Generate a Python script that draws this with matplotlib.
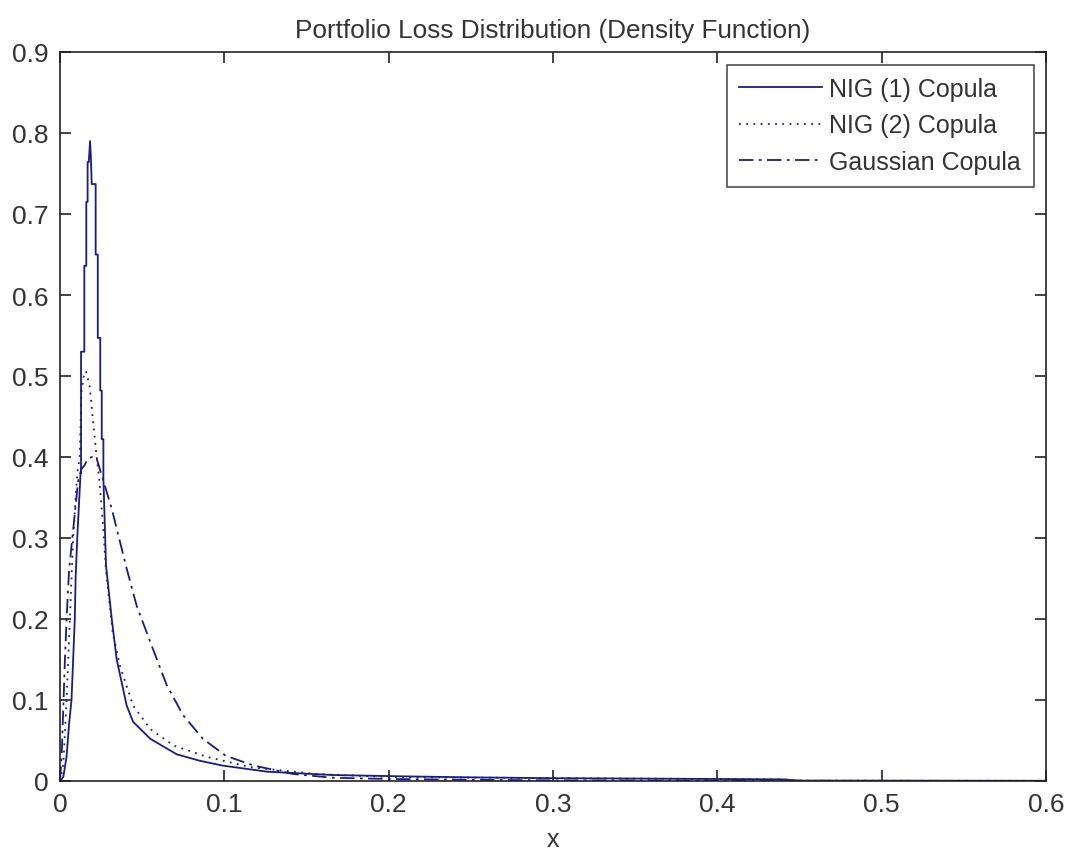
import matplotlib
matplotlib.use("Agg")
import matplotlib.pyplot as plt

plt.rcParams['font.family'] = ['Liberation Sans', 'DejaVu Sans']

# ---- data ----
nig1_x = [0, 0.002, 0.004, 0.0055, 0.007, 0.008, 0.009, 0.0095, 0.0105, 0.0115, 0.0125,
          0.0128, 0.0128, 0.0148, 0.0148, 0.016, 0.016, 0.0168, 0.0168, 0.0175, 0.0183,
          0.0188, 0.0193, 0.0217, 0.0217, 0.023, 0.023, 0.0245, 0.0245, 0.0254, 0.0254,
          0.0264, 0.0264, 0.028, 0.0315, 0.0345, 0.0406, 0.0445, 0.055, 0.071, 0.085,
          0.099, 0.126, 0.166, 0.207, 0.25, 0.3, 0.35, 0.4, 0.44, 0.45, 0.6]
nig1_y = [0, 0.005, 0.03, 0.07, 0.1, 0.15, 0.2, 0.25, 0.3, 0.34, 0.38,
          0.38, 0.53, 0.53, 0.636, 0.636, 0.715, 0.715, 0.764, 0.764, 0.79,
          0.77, 0.737, 0.737, 0.65, 0.65, 0.547, 0.547, 0.482, 0.482, 0.422,
          0.422, 0.375, 0.266, 0.2, 0.15, 0.093, 0.073, 0.052, 0.033, 0.025,
          0.019, 0.0115, 0.0074, 0.0058, 0.0045, 0.0035, 0.003, 0.0025, 0.002, 0.0005, 0.0003]

nig2_x = [0, 0.002, 0.004, 0.006, 0.008, 0.0105, 0.012, 0.013, 0.0145, 0.0158, 0.018,
          0.02, 0.022, 0.024, 0.026, 0.028, 0.032, 0.0365, 0.0445, 0.055, 0.069, 0.089,
          0.116, 0.156, 0.2, 0.3, 0.44, 0.45, 0.6]
nig2_y = [0, 0.02, 0.1, 0.2, 0.3, 0.38, 0.4, 0.48, 0.5, 0.506, 0.488,
          0.447, 0.406, 0.37, 0.32, 0.26, 0.184, 0.142, 0.093, 0.064, 0.044, 0.03,
          0.017, 0.0086, 0.005, 0.0035, 0.002, 0.0004, 0.0002]

gauss_x = [0, 0.001, 0.002, 0.003, 0.004, 0.0055, 0.0075, 0.0095, 0.011, 0.013, 0.015,
           0.017, 0.0195, 0.022, 0.025, 0.0315, 0.0406, 0.0467, 0.0558, 0.065, 0.075,
           0.087, 0.101, 0.118, 0.142, 0.166, 0.2, 0.25, 0.3, 0.4, 0.6]
gauss_y = [0, 0.03, 0.09, 0.15, 0.2, 0.26, 0.3, 0.34, 0.37, 0.385, 0.39,
           0.398, 0.40, 0.40, 0.38, 0.336, 0.262, 0.216, 0.167, 0.118, 0.081,
           0.052, 0.031, 0.019, 0.0086, 0.004, 0.0025, 0.0015, 0.0008, 0.0003, 0.0001]

labels = ['NIG (1) Copula', 'NIG (2) Copula', 'Gaussian Copula']
title = 'Portfolio Loss Distribution (Density Function)'
xticks = [0, 0.1, 0.2, 0.3, 0.4, 0.5, 0.6]
xtick_labels = ['0', '0.1', '0.2', '0.3', '0.4', '0.5', '0.6']
yticks = [0, 0.1, 0.2, 0.3, 0.4, 0.5, 0.6, 0.7, 0.8, 0.9]
ytick_labels = ['0', '0.1', '0.2', '0.3', '0.4', '0.5', '0.6', '0.7', '0.8', '0.9']

# ---- figure ----
fig = plt.figure(figsize=(10.67, 8.54), dpi=100)
ax = fig.add_axes([60/1067, 1 - 782/854, (1046 - 60)/1067, (782 - 53)/854])

col = '#1c1c80'
txt = '#333333'
ax.plot(nig1_x, nig1_y, '-', color=col, lw=1.3, label=labels[0])
ax.plot(nig2_x, nig2_y, linestyle=(0, (1, 3)), color=col, lw=1.3, label=labels[1])
ax.plot(gauss_x, gauss_y, linestyle=(0, (8, 3, 1.5, 3)), color=col, lw=1.3, label=labels[2])

ax.set_xlim(0, 0.6)
ax.set_ylim(0, 0.9)
ax.set_xticks(xticks)
ax.set_xticklabels(xtick_labels)
ax.set_yticks(yticks)
ax.set_yticklabels(ytick_labels)
ax.tick_params(direction='in', length=8, width=1.2, top=True, right=True,
               labelsize=19, colors='#222222', labelcolor=txt)
ax.tick_params(axis='x', pad=8)
ax.tick_params(axis='y', pad=8)
for s in ax.spines.values():
    s.set_linewidth(1.2)
    s.set_color('#222222')

ax.set_title(title, fontsize=18.8, color=txt, pad=11)
ax.set_xlabel('x', fontsize=18, color=txt, labelpad=8)

leg = ax.legend(loc='upper right', fontsize=18, frameon=True, fancybox=False,
                edgecolor='#222222', handlelength=3.3, handletextpad=0.3,
                borderpad=0.5, labelspacing=0.5, borderaxespad=0.5)
leg.get_frame().set_linewidth(1.2)
for t in leg.get_texts():
    t.set_color(txt)

fig.savefig('out.png', dpi=100)
